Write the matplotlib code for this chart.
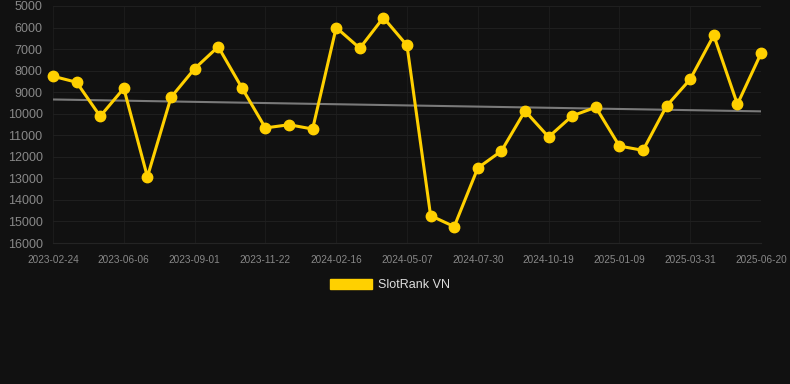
#slotrank vn ranking over time (lower rank number = better, so axis is flipped)

import matplotlib
matplotlib.use("Agg")
import matplotlib.pyplot as plt
import numpy as np

plt.rcParams['font.family'] = ['Liberation Sans', 'DejaVu Sans']

# rank values, one per snapshot
ranks = [8260, 8540, 10120, 8820, 12930, 9240, 7910, 6890, 8790, 10660,
         10510, 10710, 6000, 6960, 5540, 6830, 14730, 15240, 12520, 11730,
         9870, 11080, 10100, 9700, 11500, 11700, 9640, 8400, 6360, 9560, 7200]

# only every third date is labelled on the axis
tick_labels = ['2023-02-24', '2023-06-06', '2023-09-01', '2023-11-22', '2024-02-16',
               '2024-05-07', '2024-07-30', '2024-10-19', '2025-01-09', '2025-03-31',
               '2025-06-20']
y_ticks = [5000, 6000, 7000, 8000, 9000, 10000, 11000, 12000, 13000, 14000, 15000, 16000]

bg = '#111111'
yellow = '#FFD000'

fig = plt.figure(figsize=(7.9, 3.84), dpi=100, facecolor=bg)
ax = fig.add_axes([53/790, 141/384, 708/790, 237/384], facecolor=bg)

x = np.arange(len(ranks))

# trend line
slope, intercept = np.polyfit(x, ranks, 1)
ax.plot(x, slope*x + intercept, color='#7a7a7a', linewidth=1.5, zorder=2)

ax.plot(x, ranks, color=yellow, linewidth=2.2, marker='o', markersize=7.5,
        label='SlotRank VN', zorder=3, clip_on=False)

ax.set_xlim(0, len(ranks) - 1)
ax.set_ylim(16000, 5000)
ax.set_yticks(y_ticks)
ax.set_xticks(x[::3])
ax.set_xticklabels(tick_labels)

ax.grid(True, axis='y', color='#1f1f1f', linewidth=0.8)
ax.grid(True, axis='x', color='#1b1b1b', linewidth=0.8)
ax.set_axisbelow(True)
for s in ['top', 'right', 'left']:
    ax.spines[s].set_visible(False)
ax.spines['bottom'].set_color('#242424')
ax.tick_params(axis='y', length=0, pad=7.5, labelsize=9, labelcolor='#888888')
ax.tick_params(axis='x', length=0, pad=8.5, labelsize=7.2, labelcolor='#888888')

# legend drawn as a flat box like the original
handle = plt.Rectangle((0, 0), 1, 1, color=yellow)
leg = fig.legend([handle], ['SlotRank VN'], loc='center', bbox_to_anchor=(390/790, 1 - 285/384),
                 frameon=False, fontsize=9, handlelength=3.4, handleheight=0.9,
                 handletextpad=0.5, labelcolor='#dddddd')

fig.savefig('out.png', facecolor=bg)
